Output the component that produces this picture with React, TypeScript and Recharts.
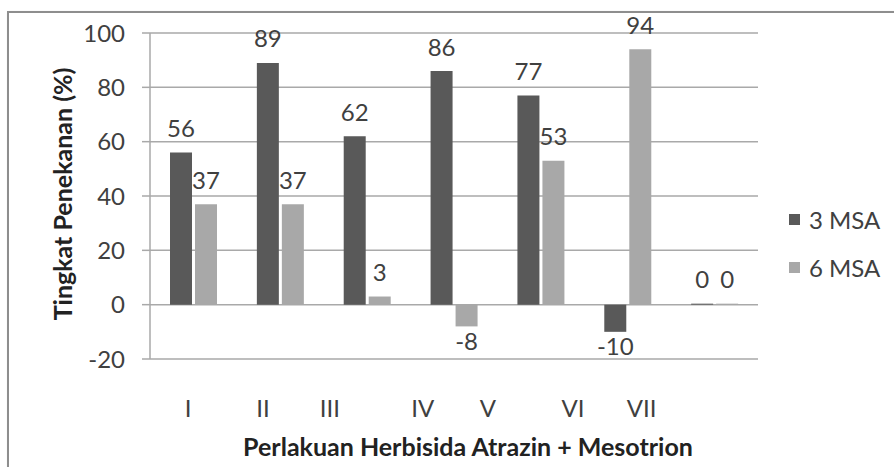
import { BarChart, Bar, XAxis, YAxis, CartesianGrid, Legend, LabelList } from 'recharts'

const groups = ['G1', 'G2', 'G3', 'G4', 'G5', 'G6', 'G7']
const msa3 = [56, 89, 62, 86, 77, -10, 0]
const msa6 = [37, 37, 3, -8, 53, 94, 0]

// roman labels sit off-centre in the original, so they live on their own numeric axis (group i spans i..i+1)
const romanLabels = ['I', 'II', 'III', 'IV', 'V', 'VI', 'VII']
const romanTicks = [0.44, 1.3, 2.07, 3.14, 3.89, 4.87, 5.66]

const yTicks = [-20, 0, 20, 40, 60, 80, 100]

const data = groups.map((g, i) => ({ group: g, pos: i + 0.5, msa3: msa3[i], msa6: msa6[i] }))

const FONT = 'Lato, "Open Sans", sans-serif'
const TEXT = '#404040'
const GRID = '#a9a9a9'

function ValueLabel(props: any) {
  const { x, y, width, height, value } = props
  const h = height || 0
  const top = Math.min(y, y + h)
  const bottom = Math.max(y, y + h)
  const cy = value < 0 ? bottom + 14 : top - 25
  return (
    <text x={x + width / 2} y={cy} textAnchor="middle" dominantBaseline="central" fill={TEXT} fontSize={24}>
      {value}
    </text>
  )
}

function LegendBox(props: any) {
  const { payload } = props
  return (
    <div style={{ fontFamily: FONT, fontSize: 24, color: TEXT }}>
      {payload.map((entry: any) => (
        <div key={entry.value} style={{ display: 'flex', alignItems: 'center', height: 48 }}>
          <span style={{ display: 'inline-block', width: 11, height: 11, background: entry.color, marginRight: 9 }} />
          <span>{entry.value}</span>
        </div>
      ))}
    </div>
  )
}

export default function App() {
  return (
    <div style={{ position: 'absolute', left: 0, top: 0, width: 894, height: 467, background: '#fff', overflow: 'hidden' }}>
      <div
        style={{
          position: 'absolute',
          left: 7,
          top: 11,
          width: 920,
          height: 480,
          border: '2px solid #8e8e8e',
          boxShadow: '1px 1px 2px #c8c8c8',
        }}
      />
      <div style={{ position: 'absolute', left: 0, top: 0 }}>
        <BarChart
          width={894}
          height={467}
          data={data}
          margin={{ top: 33, right: 136, left: 0, bottom: 0 }}
          barSize={22}
          barGap={3}
          style={{ fontFamily: FONT }}
        >
          <CartesianGrid vertical={false} stroke={GRID} strokeWidth={1.5} />
          <XAxis dataKey="group" hide height={0} />
          <XAxis
            xAxisId="roman"
            dataKey="pos"
            type="number"
            domain={[0, 7]}
            allowDataOverflow
            ticks={romanTicks}
            tickFormatter={(_v: number, i: number) => romanLabels[i]}
            axisLine={false}
            tickLine={false}
            tickSize={0}
            tickMargin={41}
            height={108}
            interval={0}
            tick={{ fill: TEXT, fontSize: 24 }}
            label={{
              content: (p: any) => {
                const vb = p.viewBox
                return (
                  <text
                    x={vb.x + vb.width / 2 + 14}
                    y={vb.y + 87}
                    textAnchor="middle"
                    dominantBaseline="central"
                    fill="#222"
                    fontSize={25}
                    fontWeight="bold"
                  >
                    Perlakuan Herbisida Atrazin + Mesotrion
                  </text>
                )
              },
            }}
          />
          <YAxis
            width={150}
            domain={[-20, 100]}
            ticks={yTicks}
            interval={0}
            axisLine={{ stroke: GRID, strokeWidth: 1.5 }}
            tickLine={{ stroke: GRID, strokeWidth: 1.5 }}
            tickSize={8}
            tickMargin={17}
            tick={{ fill: TEXT, fontSize: 24 }}
            label={{
              content: (p: any) => {
                const vb = p.viewBox
                const cx = vb.x + 62
                const cy = vb.y + vb.height / 2 - 2
                return (
                  <text
                    x={cx}
                    y={cy}
                    transform={`rotate(-90 ${cx} ${cy})`}
                    textAnchor="middle"
                    dominantBaseline="central"
                    fill="#222"
                    fontSize={25}
                    fontWeight="bold"
                  >
                    Tingkat Penekanan (%)
                  </text>
                )
              },
            }}
          />
          <Legend
            layout="horizontal"
            align="center"
            verticalAlign="middle"
            content={LegendBox}
            wrapperStyle={{ left: 789, top: 195, width: 105 }}
          />
          <Bar dataKey="msa3" name="3 MSA" fill="#595959" minPointSize={1} isAnimationActive={false}>
            <LabelList dataKey="msa3" content={ValueLabel} />
          </Bar>
          <Bar dataKey="msa6" name="6 MSA" fill="#a8a8a8" minPointSize={1} isAnimationActive={false}>
            <LabelList dataKey="msa6" content={ValueLabel} />
          </Bar>
        </BarChart>
      </div>
    </div>
  )
}
